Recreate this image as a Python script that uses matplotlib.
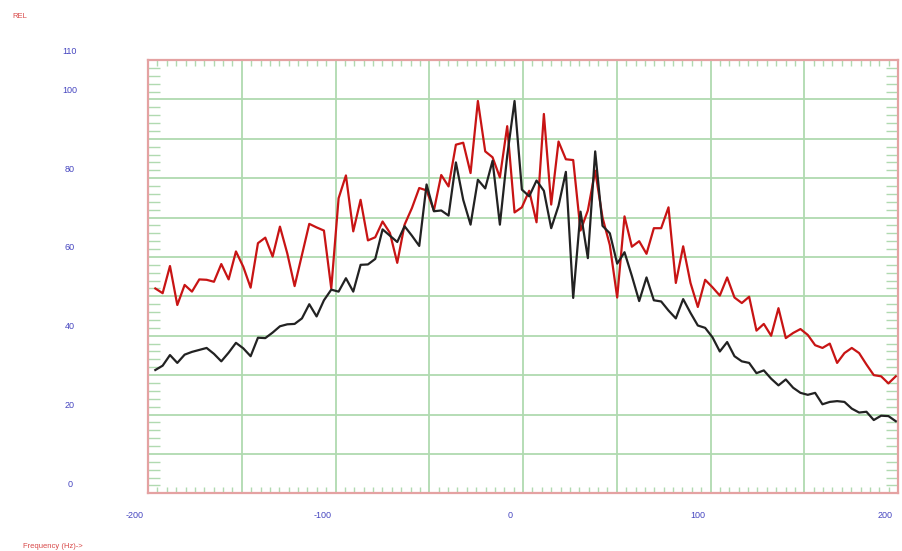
import numpy as np
import matplotlib
matplotlib.use("Agg")
import matplotlib.pyplot as plt
from matplotlib.ticker import MultipleLocator
from matplotlib import transforms

# Frequency axis (Hz) and relative response of the two channels
freq = -196.1 + 3.91 * np.arange(102)

rel_red = [
    52.0, 50.8, 57.7, 47.8, 52.9, 51.2, 54.3, 54.2, 53.7, 58.2,
    54.3, 61.4, 57.5, 52.2, 63.5, 64.9, 60.1, 67.7, 60.9, 52.6,
    60.5, 68.4, 67.5, 66.7, 52.0, 74.9, 80.7, 66.5, 74.5, 64.2,
    65.0, 69.0, 66.1, 58.5, 68.2, 72.4, 77.5, 76.9, 71.8, 80.8,
    77.9, 88.5, 89.0, 81.3, 99.6, 86.8, 85.3, 80.2, 93.2, 71.3,
    72.6, 76.8, 68.8, 96.3, 73.3, 89.3, 84.8, 84.6, 66.7, 71.8,
    81.9, 70.0, 63.0, 49.7, 70.3, 62.6, 64.0, 60.8, 67.3, 67.3,
    72.6, 53.4, 62.7, 53.4, 47.3, 54.2, 52.3, 50.2, 54.8, 49.7,
    48.3, 49.9, 41.3, 43.0, 40.0, 47.0, 39.4, 40.7, 41.7, 40.2,
    37.6, 36.9, 38.0, 33.1, 35.6, 36.9, 35.6, 32.7, 30.0, 29.7,
    27.9, 29.7,
]

rel_black = [
    31.3, 32.4, 35.1, 33.1, 35.2, 35.9, 36.4, 36.9, 35.4, 33.5,
    35.7, 38.2, 36.8, 34.8, 39.5, 39.4, 40.8, 42.4, 42.9, 43.0,
    44.4, 48.0, 44.9, 49.0, 51.7, 51.2, 54.6, 51.2, 58.0, 58.1,
    59.5, 67.0, 65.4, 63.8, 67.8, 65.4, 62.8, 78.4, 71.6, 71.8,
    70.5, 84.0, 74.5, 68.2, 79.6, 77.4, 84.4, 68.2, 85.7, 99.6,
    77.1, 75.4, 79.4, 76.8, 67.3, 73.0, 81.6, 49.6, 71.5, 59.7,
    86.8, 67.9, 66.0, 58.3, 61.2, 55.2, 48.8, 54.8, 49.0, 48.7,
    46.4, 44.4, 49.3, 45.8, 42.6, 42.0, 39.6, 36.0, 38.4, 34.8,
    33.5, 33.1, 30.5, 31.2, 29.1, 27.4, 28.9, 26.8, 25.5, 25.0,
    25.5, 22.6, 23.2, 23.4, 23.2, 21.5, 20.5, 20.7, 18.6, 19.7,
    19.6, 18.3,
]

x_labels = [-200, -100, 0, 100, 200]
y_labels = [0, 20, 40, 60, 80, 100, 110]

GRID = "#b0dab0"
FRAME = "#e4a2a2"
BLUE = "#4646c0"
RED_TXT = "#d84848"

plt.rcParams["font.family"] = ["Liberation Sans", "DejaVu Sans"]

fig = plt.figure(figsize=(9.02, 5.51), dpi=100)
fig.patch.set_facecolor("white")
ax = fig.add_axes([148 / 902, 1 - 493.3 / 551, 750 / 902, 433.3 / 551])

ax.set_xlim(-200, 200)
ax.set_ylim(0, 110)

# grid every 50 Hz / 10 units, minor ticks every 5 Hz / 2 units
ax.xaxis.set_major_locator(MultipleLocator(50))
ax.yaxis.set_major_locator(MultipleLocator(10))
ax.xaxis.set_minor_locator(MultipleLocator(5))
ax.yaxis.set_minor_locator(MultipleLocator(2))
ax.grid(True, which="major", color=GRID, linewidth=1.3, zorder=1)
ax.tick_params(which="major", length=0, labelbottom=False, labelleft=False)
ax.tick_params(axis="x", which="minor", direction="in", length=4.5, width=1.0,
               color=GRID, top=True, bottom=True)
ax.tick_params(axis="y", which="minor", direction="in", length=8.5, width=1.0,
               color=GRID, left=True, right=True)

for sp in ax.spines.values():
    sp.set_color(FRAME)
    sp.set_linewidth(1.6)

ax.plot(freq, rel_red, color="#c81414", linewidth=1.6, zorder=3)
ax.plot(freq, rel_black, color="#222222", linewidth=1.6, zorder=4)

# axis value labels
ty = transforms.blended_transform_factory(fig.transFigure, ax.transData) + \
    transforms.ScaledTranslation(0, 9 / 100, fig.dpi_scale_trans)
for v in y_labels:
    ax.text(70 / 902, v, str(v), transform=ty, ha="center", va="center",
            fontsize=6.5, color=BLUE, clip_on=False)

tx = transforms.blended_transform_factory(ax.transData, fig.transFigure) + \
    transforms.ScaledTranslation(-13 / 100, 0, fig.dpi_scale_trans)
for v in x_labels:
    ax.text(v, 1 - 515 / 551, str(v), transform=tx, ha="center", va="center",
            fontsize=6.5, color=BLUE, clip_on=False)

fig.text(12 / 902, 1 - 16 / 551, "REL", ha="left", va="center",
         fontsize=5.5, color=RED_TXT)
fig.text(23 / 902, 1 - 547 / 551, "Frequency (Hz)->", ha="left", va="center",
         fontsize=5.5, color=RED_TXT)

fig.savefig("out.png", dpi=100, facecolor="white")
